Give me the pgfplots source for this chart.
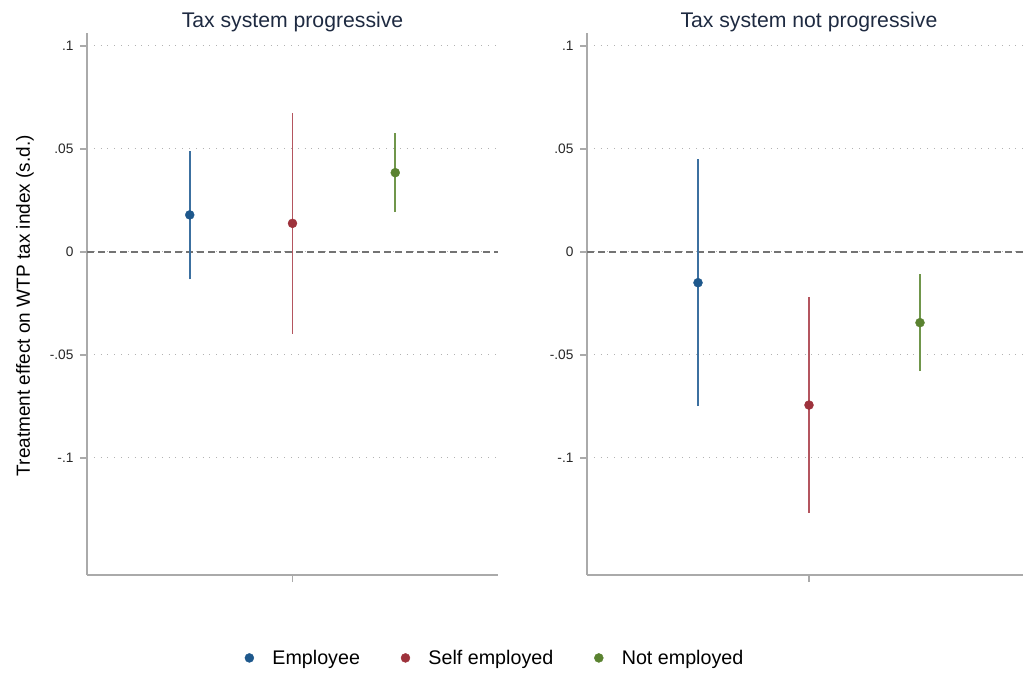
\documentclass[border=0pt]{standalone}
\usepackage{pgfplots}
\pgfplotsset{compat=1.18}
\usepackage{fontspec}
\setmainfont{Liberation Sans}
\definecolor{cblue}{RGB}{30,88,140}
\definecolor{cred}{RGB}{158,50,60}
\definecolor{cgreen}{RGB}{90,130,48}
\definecolor{lblue}{RGB}{60,112,160}
\definecolor{lred}{RGB}{180,85,95}
\definecolor{lgreen}{RGB}{112,150,75}
\definecolor{axgray}{RGB}{170,170,170}
\definecolor{titlecol}{RGB}{30,42,65}
\pgfplotsset{
  panel/.style={
    scale only axis, height=542pt,
    ymin=-0.1568, ymax=0.1063,
    axis lines*=left,
    axis line style={axgray, line width=1.5pt},
    xtick={0}, xticklabels={},
    ytick={-0.1,-0.05,0,0.05,0.1},
    yticklabels={-.1,-.05,0,.05,.1},
    tick align=outside, major tick length=7pt,
    tick style={axgray, line width=1.2pt},
    ymajorgrids,
    grid style={black!30, line width=1pt, dash pattern=on 1pt off 5.8pt},
    yticklabel style={font=\fontsize{13.7}{16}\selectfont, text=black!85, xshift=-3pt},
    title style={font=\fontsize{21.2}{25}\selectfont, text=titlecol, anchor=base, at={(axis description cs:0.5,1)}, yshift=-1pt},
    legend image code/.code={\path[draw=none, fill=none] (-2pt,0pt) -- (21pt,0pt); \draw[#1] plot coordinates {(0pt,0pt)};},
  },
  ci/.style={line width=1.8pt, forget plot},
  dotm/.style={only marks, mark=*, mark size=4.5pt},
}
\begin{document}
\begin{tikzpicture}
% Left panel
\begin{axis}[panel, at={(87pt,98pt)}, anchor=south west, width=411pt,
  xmin=-2, xmax=2,
  title={Tax system progressive},
  ylabel={Treatment effect on WTP tax index (s.d.)},
  ylabel style={font=\fontsize{19}{22}\selectfont, at={(axis description cs:-0.151,0.497)}, anchor=center},
  legend style={at={(axis description cs:0.993,-0.153)}, anchor=center, draw=none, fill=none,
    legend columns=3, font=\fontsize{19.7}{22}\selectfont,
    /tikz/every even column/.append style={column sep=39pt}},
]
\addplot[black!55, line width=1.3pt, dash pattern=on 7pt off 4pt, forget plot] coordinates {(-2,0) (2,0)};
\addplot[lblue, ci] coordinates {(-1,-0.0133) (-1,0.0492)};
\addplot[lred, ci] coordinates {(0,-0.0398) (0,0.0675)};
\addplot[lgreen, ci] coordinates {(1,0.0194) (1,0.0576)};
\addplot[cblue, dotm] coordinates {(-1,0.0180)};
\addlegendentry{Employee}
\addplot[cred, dotm] coordinates {(0,0.0139)};
\addlegendentry{Self employed}
\addplot[cgreen, dotm] coordinates {(1,0.0385)};
\addlegendentry{Not employed}
\end{axis}
% Right panel
\begin{axis}[panel, at={(587pt,98pt)}, anchor=south west, width=436pt,
  xmin=-2, xmax=1.928,
  title={Tax system not progressive},
  title style={at={(axis description cs:0.509,1)}},
]
\addplot[black!55, line width=1.3pt, dash pattern=on 7pt off 4pt] coordinates {(-2,0) (1.928,0)};
\addplot[lblue, ci] coordinates {(-1,-0.0748) (-1,0.0450)};
\addplot[lred, ci] coordinates {(0,-0.1267) (0,-0.0220)};
\addplot[lgreen, ci] coordinates {(1,-0.0578) (1,-0.0108)};
\addplot[cblue, dotm] coordinates {(-1,-0.0149)};
\addplot[cred, dotm] coordinates {(0,-0.0743)};
\addplot[cgreen, dotm] coordinates {(1,-0.0343)};
\end{axis}
\pgfresetboundingbox
\path[use as bounding box] (0pt,0pt) rectangle (1023pt,673pt);
\end{tikzpicture}
\end{document}
